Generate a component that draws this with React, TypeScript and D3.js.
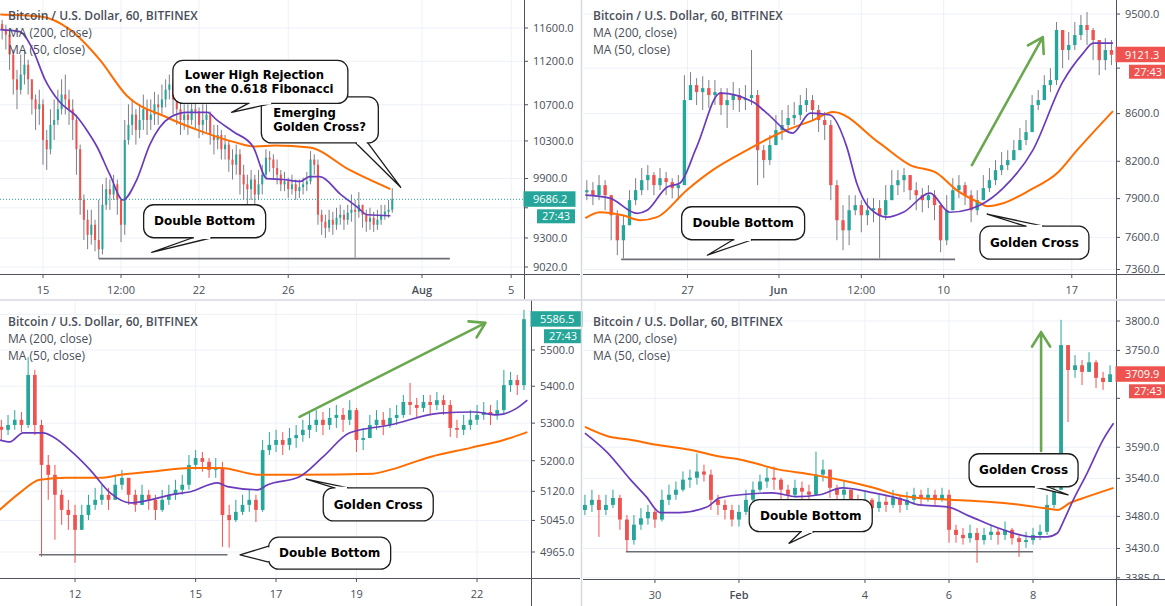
import React from "react";
import * as d3 from "d3";

type Candle = [number, number, number]; // close, high, low
type Pt = [number, number]; // hour, price

const W = 1165;
const H = 606;
const UP = "#26a69a";
const DOWN = "#ef5350";
const MA200_COLOR = "#ff6d00";
const MA50_COLOR = "#6a3cbc";
const ARROW = "#6aa84f";
const GRID = "#edf1f7";
const AXIS = "#50535e";
const TEXT = "#4a4e59";
const FONT = "'Open Sans', 'Noto Sans', sans-serif";
const CALLOUT_FONT = "'DejaVu Sans', Verdana, sans-serif";

const legendLines = ["Bitcoin / U.S. Dollar, 60, BITFINEX", "MA (200, close)", "MA (50, close)"];

// ---------- top left: July, hours from Jul 15 00:00, 4h candles
const candlesA: Candle[] = [
  [11580,11700,11460],[11520,11640,11340],[11280,11580,11100],[10990,11340,10815],[10870,11100,10650],
  [11045,11280,10815],[11160,11340,10930],[10990,11220,10815],[10760,10990,10590],[10650,10815,10420],
  [10705,10870,10475],[10310,10760,10045],[10210,10420,9990],[10475,10650,10155],[10530,10760,10310],
  [10650,10870,10475],[10815,10990,10590],[10760,11045,10590],[10650,10870,10475],[10530,10760,10310],
  [10210,10590,9940],[9680,10260,9530],[9480,9735,9280],[9330,9580,9190],[9430,9580,9235],
  [9280,9480,9170],[9190,9680,9100],[9630,9840,9140],[9790,9910,9580],[9735,9890,9580],
  [9840,9940,9680],[9680,9890,9530],[9430,9680,9260],[10310,10530,9330],[10475,10705,10260],
  [10590,10760,10365],[10420,10650,10260],[10530,10705,10330],[10650,10815,10420],[10530,10760,10365],
  [10590,10760,10420],[10705,10845,10475],[10670,10815,10475],[10760,10930,10590],[10870,10990,10670],
  [10930,11045,10760],[10760,10990,10590],[10650,10815,10475],[10530,10760,10365],[10590,10705,10420],
  [10530,10705,10365],[10650,10760,10475],[10625,10760,10440],[10475,10670,10330],[10530,10705,10365],
  [10590,10705,10400],[10365,10625,10260],[10310,10475,10155],[10365,10475,10210],[10210,10420,10100],
  [10260,10365,10100],[10100,10310,9970],[10045,10210,9890],[10155,10260,9940],[9940,10210,9735],
  [9840,10045,9680],[9790,9940,9630],[9890,9990,9680],[9735,9940,9630],[9840,9990,9680],
  [9940,10045,9735],[10120,10210,9890],[10100,10190,9970],[10010,10155,9890],[9940,10100,9840],
  [9840,9990,9770],[9870,9970,9770],[9790,9910,9700],[9840,9940,9735],[9770,9890,9680],
  [9810,9890,9700],[9840,9910,9735],[9870,9970,9770],[10100,10190,9840],[10045,10155,9940],
  [9530,10100,9430],[9460,9580,9330],[9400,9530,9300],[9480,9580,9360],[9430,9560,9330],
  [9500,9600,9380],[9530,9630,9430],[9480,9580,9380],[9550,9630,9430],[9580,9735,9460],
  [9560,9680,9110],[9630,9760,9500],[9530,9630,9400],[9460,9580,9360],[9500,9600,9380],
  [9430,9560,9360],[9480,9580,9380],[9530,9630,9430],[9560,9630,9480],[9580,9680,9500],
  [9686.2,9800,9550],
];
const ma200A: Pt[] = [[-46,11765],[-3,11740],[29,11580],[61,11220],[90,10805],[133,10560],[169,10410],[205,10290],[228,10240],[250,10250],[287,10230],[330,9990],[374,9790]];
const ma50A: Pt[] = [[-46,11580],[-25,11555],[-11,11340],[2,10990],[18,10730],[37,10560],[47,10420],[58,10240],[72,9940],[86,9680],[101,9890],[115,10260],[137,10560],[155,10615],[177,10615],[187,10530],[205,10400],[226,10240],[241,9900],[258,9890],[277,9870],[287,9920],[298,9920],[320,9740],[338,9610],[349,9530],[374,9520]];
const xTickHoursA = [0, 84, 168, 264, 408, 504];
const xTickLabelsA = ["15", "12:00", "22", "26", "Aug", "5"];
const yTicksA = [11600, 11200, 10700, 10300, 9900, 9600, 9300, 9020];

// ---------- top right: May/June, hours from Jun 1 00:00, 8h candles
const candlesB: Candle[] = [
  [7967,8047,7888],[7927,8031,7849],[8007,8088,7888],[7927,8047,7809],[7770,7927,7578],
  [7578,7809,7466],[7693,7770,7443],[7888,7967,7731],[7967,8063,7849],[8047,8145,7927],
  [8088,8169,7967],[8007,8112,7927],[8063,8145,7967],[8031,8112,7927],[7983,8063,7904],
  [8007,8088,7888],[8717,8937,8007],[8849,8964,8717],[8787,8910,8674],[8822,8928,8631],
  [8761,8893,8648],[8787,8893,8674],[8674,8822,8588],[8717,8822,8477],[8761,8876,8631],
  [8717,8822,8614],[8735,8849,8631],[8761,9164,8674],[8292,8805,8007],[8210,8334,8063],
  [8334,8418,8169],[8460,8588,8334],[8503,8631,8376],[8562,8674,8443],[8588,8700,8503],
  [8674,8761,8545],[8717,8822,8614],[8631,8761,8545],[8545,8674,8443],[8503,8614,8376],
  [8007,8545,7888],[7731,8047,7578],[7654,7849,7503],[7809,7927,7541],[7849,7927,7770],
  [7770,7888,7639],[7809,7904,7693],[7825,7904,7716],[7770,7888,7443],[7888,8007,7731],
  [8007,8128,7888],[8047,8128,7927],[8088,8145,7951],[7967,8063,7888],[7927,8031,7809],
  [7888,7983,7793],[7927,8007,7825],[7849,7967,7731],[7578,7809,7488],[7809,7927,7541],
  [7967,8063,7849],[8007,8088,7904],[7927,8031,7849],[7809,7967,7716],[7888,7967,7770],
  [7983,8088,7888],[8047,8145,7951],[8128,8210,8007],[8169,8276,8088],[8210,8292,8128],
  [8292,8376,8210],[8376,8477,8292],[8443,8545,8334],[8674,8761,8460],[8717,8805,8631],
  [8849,8937,8717],[8893,9000,8787],[9349,9424,8849],[9164,9349,9000],[9210,9330,9072],
  [9302,9424,9164],[9396,9490,9256],[9349,9519,9210],[9256,9368,9072],[9072,9256,8937],
  [9164,9274,8982],[9121.3,9256,9027],
];
const ma200B: Pt[] = [[-254,7747],[-235,7793],[-205,7770],[-182,7731],[-160,7755],[-121,7967],[-87,8128],[-42,8292],[1,8435],[45,8545],[71,8614],[132,8350],[172,8169],[207,8104],[233,7967],[264,7864],[273,7841],[294,7864],[329,7967],[365,8104],[391,8292],[438,8622]];
const ma50B: Pt[] = [[-254,7927],[-222,7904],[-186,7785],[-173,7809],[-147,7991],[-130,8023],[-108,8317],[-77,8778],[-34,8700],[-16,8605],[18,8435],[41,8605],[67,8588],[89,8317],[102,8023],[119,7825],[142,7755],[163,7793],[198,7943],[224,7793],[250,7817],[264,7849],[294,7983],[333,8292],[372,8875],[399,9136],[412,9228],[438,9228]];
const xTickHoursB = [-120, 0, 108, 216, 384];
const xTickLabelsB = ["27", "Jun", "12:00", "10", "17"];
const yTicksB = [9500, 9000, 8600, 8200, 7900, 7600, 7360];

// ---------- bottom left: hours from day 12 00:00, 4h candles
const candlesC: Candle[] = [
  [5282,5309,5255],[5295,5322,5268],[5309,5335,5282],[5295,5330,5276],[5431,5480,5287],
  [5295,5445,5268],[5189,5309,4953],[5163,5215,5098],[5111,5189,4996],[5072,5124,5034],
  [5059,5098,5021],[5021,5085,4938],[5059,5085,5021],[5085,5111,5046],[5098,5129,5072],
  [5111,5137,5085],[5098,5129,5072],[5137,5163,5111],[5155,5176,5124],[5111,5155,5085],
  [5085,5124,5067],[5111,5137,5085],[5098,5124,5072],[5072,5111,5046],[5098,5124,5067],
  [5111,5137,5085],[5124,5150,5098],[5137,5163,5111],[5189,5215,5124],[5207,5228,5176],
  [5197,5223,5171],[5176,5207,5155],[5181,5207,5155],[5059,5197,4978],[5046,5085,4976],
  [5067,5098,5041],[5085,5111,5059],[5098,5124,5067],[5072,5111,5041],[5228,5255,5067],
  [5242,5276,5215],[5255,5282,5223],[5242,5276,5215],[5260,5287,5228],[5268,5295,5234],
  [5282,5309,5250],[5295,5330,5260],[5309,5335,5276],[5295,5330,5268],[5314,5341,5282],
  [5322,5349,5287],[5309,5341,5276],[5335,5362,5295],[5255,5341,5223],[5260,5287,5228],
  [5295,5322,5268],[5309,5335,5282],[5295,5330,5268],[5314,5341,5287],[5322,5349,5295],
  [5357,5376,5314],[5349,5409,5322],[5341,5368,5314],[5357,5376,5330],[5349,5376,5322],
  [5362,5384,5335],[5349,5376,5322],[5287,5362,5263],[5282,5309,5260],[5295,5322,5268],
  [5309,5335,5282],[5322,5349,5295],[5330,5357,5309],[5322,5349,5295],[5335,5362,5309],
  [5403,5445,5322],[5417,5439,5384],[5403,5431,5376],[5586.5,5613,5390],
];
const ma200C: Pt[] = [[-45,5072],[-33,5116],[-21,5150],[-5,5155],[15,5155],[27,5163],[45,5171],[70,5181],[87,5181],[110,5163],[134,5163],[178,5166],[188,5176],[212,5210],[236,5234],[256,5255],[270,5276]];
const ma50C: Pt[] = [[-45,5255],[-39,5250],[-31,5274],[-19,5274],[-13,5263],[-1,5220],[9,5176],[21,5116],[33,5090],[45,5098],[57,5111],[69,5119],[85,5142],[91,5132],[109,5124],[115,5137],[134,5158],[148,5210],[164,5274],[188,5295],[218,5327],[238,5330],[252,5322],[264,5341],[270,5362]];
const xTickHoursC = [0, 72, 120, 168, 240];
const xTickLabelsC = ["12", "15", "17", "19", "22"];
const yTicksC = [5600, 5500, 5400, 5300, 5200, 5120, 5045, 4965];

// ---------- bottom right: hours from Feb 1 00:00, 4h candles
const candlesD: Candle[] = [
  [3498,3514,3482],[3506,3522,3487],[3490,3514,3448],[3498,3514,3482],[3509,3522,3493],
  [3475,3514,3459],[3443,3482,3425],[3467,3482,3436],[3477,3493,3459],[3487,3498,3467],
  [3475,3493,3462],[3506,3522,3472],[3514,3530,3498],[3522,3535,3506],[3538,3551,3519],
  [3541,3554,3525],[3551,3580,3530],[3546,3562,3535],[3506,3554,3490],[3498,3514,3482],
  [3490,3506,3475],[3475,3498,3464],[3487,3498,3464],[3506,3522,3482],[3522,3535,3503],
  [3535,3546,3519],[3541,3557,3525],[3538,3559,3522],[3522,3541,3506],[3514,3530,3503],
  [3525,3538,3509],[3519,3535,3506],[3514,3530,3503],[3546,3583,3522],[3554,3570,3535],
  [3525,3554,3509],[3514,3530,3503],[3522,3535,3506],[3506,3522,3493],[3498,3514,3487],
  [3506,3519,3490],[3493,3509,3482],[3503,3514,3487],[3498,3514,3487],[3509,3522,3493],
  [3498,3514,3486],[3506,3519,3490],[3514,3525,3498],[3509,3522,3498],[3514,3525,3503],
  [3506,3522,3498],[3514,3525,3503],[3459,3522,3439],[3451,3467,3439],[3446,3462,3436],
  [3454,3467,3439],[3443,3462,3408],[3451,3462,3436],[3456,3467,3443],[3451,3462,3436],
  [3459,3472,3443],[3446,3462,3436],[3440,3451,3417],[3443,3456,3431],[3451,3462,3436],
  [3456,3467,3443],[3498,3514,3451],[3522,3535,3493],[3759,3802,3522],[3717,3759,3631],
  [3725,3742,3704],[3714,3734,3692],[3730,3747,3714],[3704,3734,3687],[3697,3714,3684],
  [3709.9,3725,3697],
];
const ma200D: Pt[] = [[-88,3623],[-74,3607],[-62,3602],[-47,3594],[-28,3586],[-11,3575],[1,3570],[23,3554],[42,3546],[62,3535],[77,3525],[90,3514],[103,3509],[121,3506],[142,3503],[161,3498],[174,3493],[182,3490],[189,3501],[199,3511],[214,3525]];
const ma50D: Pt[] = [[-88,3613],[-75,3581],[-62,3538],[-53,3511],[-45,3486],[-34,3486],[-18,3495],[-11,3509],[1,3514],[19,3517],[33,3511],[46,3514],[59,3525],[77,3517],[94,3506],[103,3498],[119,3495],[132,3480],[151,3459],[168,3448],[176,3448],[182,3454],[185,3470],[191,3506],[199,3549],[208,3602],[214,3629]];
const xTickHoursD = [-48, 0, 72, 120, 168];
const xTickLabelsD = ["30", "Feb", "4", "6", "8"];
const yTicksD = [3800, 3750, 3670, 3590, 3540, 3480, 3430, 3385];

type Callout = {
  lines: string[];
  t: number;
  p: number;
  w: number;
  h: number;
  tip: Pt;
  edge: "bottom" | "top" | "left";
  base: [number, number];
};

const calloutsA: Callout[] = [
  { lines: ["Emerging", "Golden Cross?"], t: 298, p: 10530, w: 117, h: 46, tip: [385, 9810], edge: "bottom", base: [36, 48] },
  { lines: ["Lower High Rejection", "on the 0.618 Fibonacci"], t: 234, p: 10960, w: 175, h: 43, tip: [203, 10615], edge: "bottom", base: [-12, 12] },
  { lines: ["Double Bottom"], t: 174, p: 9465, w: 122, h: 33, tip: [117, 9160], edge: "bottom", base: [-12, 7] },
];
const calloutsB: Callout[] = [
  { lines: ["Double Bottom"], t: -47, p: 7708, w: 123, h: 33, tip: [-94, 7466], edge: "bottom", base: [-10, 9] },
  { lines: ["Golden Cross"], t: 335, p: 7560, w: 109, h: 33, tip: [273, 7778], edge: "top", base: [-9, 9] },
];
const calloutsC: Callout[] = [
  { lines: ["Golden Cross"], t: 181, p: 5086, w: 110, h: 33, tip: [138, 5152], edge: "top", base: [-44, -30] },
  { lines: ["Double Bottom"], t: 152, p: 4962, w: 122, h: 32, tip: [98.5, 4958], edge: "left", base: [-7, 9] },
];
const calloutsD: Callout[] = [
  { lines: ["Double Bottom"], t: 41, p: 3481, w: 123, h: 32, tip: [28.6, 3438], edge: "bottom", base: [-10, 3] },
  { lines: ["Golden Cross"], t: 162.6, p: 3553, w: 109, h: 33, tip: [188, 3514], edge: "bottom", base: [10, 24] },
];

type PanelCfg = {
  left: number;
  right: number;
  top: number;
  bottom: number;
  panelRight: number;
  panelBottom: number;
  legendX: number;
  legendY: number;
  xDomain: [number, number];
  yDomain: [number, number];
  yRange: [number, number];
  t0: number;
  step: number;
  open0: number;
  candles: Candle[];
  ma200: Pt[];
  ma50: Pt[];
  xTickHours: number[];
  xTickLabels: string[];
  yTicks: number[];
  last: number;
  lastColor: string;
  wick: string | null;
  db: { t1: number; t2: number; p: number };
  callouts: Callout[];
  arrow: { from: Pt; to: Pt } | null;
  dotted: boolean;
  id: string;
};

const panels: PanelCfg[] = [
  {
    id: "a", left: 0, right: 524, top: 0, bottom: 274, panelRight: 580, panelBottom: 299,
    legendX: 8, legendY: 20,
    xDomain: [-46.3, 517.8], yDomain: [9020, 11600], yRange: [267, 28],
    t0: -44, step: 4, open0: 11650, candles: candlesA, ma200: ma200A, ma50: ma50A,
    xTickHours: xTickHoursA, xTickLabels: xTickLabelsA, yTicks: yTicksA,
    last: 9686.2, lastColor: UP, wick: "#7d7f88",
    db: { t1: 60, t2: 438, p: 9100 }, callouts: calloutsA, arrow: null, dotted: true,
  },
  {
    id: "b", left: 583, right: 1116, top: 0, bottom: 274, panelRight: 1165, panelBottom: 299,
    legendX: 593, legendY: 20,
    xDomain: [-257, 442], yDomain: [7360, 9500], yRange: [269.5, 14],
    t0: -252, step: 8, open0: 7950, candles: candlesB, ma200: ma200B, ma50: ma50B,
    xTickHours: xTickHoursB, xTickLabels: xTickLabelsB, yTicks: yTicksB,
    last: 9121.3, lastColor: DOWN, wick: "#7d7f88",
    db: { t1: -207, t2: 231, p: 7435 }, callouts: calloutsB,
    arrow: { from: [253, 8169], to: [346, 9284] }, dotted: false,
  },
  {
    id: "c", left: 0, right: 531, top: 302, bottom: 578, panelRight: 580, panelBottom: 606,
    legendX: 8, legendY: 326,
    xDomain: [-44.8, 272.2], yDomain: [4965, 5500], yRange: [552, 350],
    t0: -44, step: 4, open0: 5290, candles: candlesC, ma200: ma200C, ma50: ma50C,
    xTickHours: xTickHoursC, xTickLabels: xTickLabelsC, yTicks: yTicksC,
    last: 5586.5, lastColor: UP, wick: null,
    db: { t1: -21.5, t2: 91, p: 4958 }, callouts: calloutsC,
    arrow: { from: [134, 5317], to: [245, 5576] }, dotted: false,
  },
  {
    id: "d", left: 583, right: 1116, top: 302, bottom: 579, panelRight: 1165, panelBottom: 606,
    legendX: 593, legendY: 326,
    xDomain: [-89.1, 215.4], yDomain: [3430, 3800], yRange: [548.5, 321],
    t0: -88, step: 4, open0: 3490, candles: candlesD, ma200: ma200D, ma50: ma50D,
    xTickHours: xTickHoursD, xTickLabels: xTickLabelsD, yTicks: yTicksD,
    last: 3709.9, lastColor: DOWN, wick: null,
    db: { t1: -64.6, t2: 168, p: 3425 }, callouts: calloutsD,
    arrow: { from: [172.6, 3584], to: [172.6, 3781] }, dotted: false,
  },
];

function CalloutView({ co, x, y }: { co: Callout; x: any; y: any }) {
  const cx = x(co.t);
  const cy = y(co.p);
  const x0 = cx - co.w / 2;
  const y0 = cy - co.h / 2;
  const tx = x(co.tip[0]);
  const ty = y(co.tip[1]);
  let b1: Pt;
  let b2: Pt;
  if (co.edge === "bottom") {
    b1 = [cx + co.base[0], y0 + co.h];
    b2 = [cx + co.base[1], y0 + co.h];
  } else if (co.edge === "top") {
    b1 = [cx + co.base[0], y0];
    b2 = [cx + co.base[1], y0];
  } else {
    b1 = [x0, cy + co.base[0]];
    b2 = [x0, cy + co.base[1]];
  }
  const horiz = co.edge !== "left";
  const c1 = horiz ? [b1[0] + 1.2, b1[1]] : [b1[0], b1[1] + 1.2];
  const c2 = horiz ? [b2[0] - 1.2, b2[1]] : [b2[0], b2[1] - 1.2];
  const multi = co.lines.length > 1;
  const lh = 13.6;
  const fs = multi ? 11.6 : 12;
  return (
    <g>
      <path
        d={`M${b1[0]},${b1[1]}L${tx},${ty}L${b2[0]},${b2[1]}`}
        fill="#fff"
        stroke="#1c1c1c"
        strokeWidth={1.3}
        strokeLinejoin="round"
      />
      <rect x={x0} y={y0} width={co.w} height={co.h} rx={10} fill="#fff" stroke="#1c1c1c" strokeWidth={1.3} />
      <line x1={c1[0]} y1={c1[1]} x2={c2[0]} y2={c2[1]} stroke="#fff" strokeWidth={2.6} />
      {co.lines.map((s, i) => (
        <text
          key={i}
          x={multi ? x0 + 12 : cx}
          y={cy - ((co.lines.length - 1) * lh) / 2 + i * lh + 4.2}
          textAnchor={multi ? "start" : "middle"}
          fontFamily={CALLOUT_FONT}
          fontWeight="bold"
          fontSize={fs}
          fill="#000"
        >
          {s}
        </text>
      ))}
    </g>
  );
}

function PanelView({ c }: { c: PanelCfg }) {
  const x = d3.scaleLinear().domain(c.xDomain).range([c.left, c.right]);
  const y = d3.scaleLog().domain(c.yDomain).range(c.yRange);
  const slot = x(c.step) - x(0);
  const bw = Math.max(1, slot * 0.55);
  const line = d3
    .line<Pt>()
    .x((d) => x(d[0]))
    .y((d) => y(d[1]))
    .curve(d3.curveMonotoneX);
  const clip = `clip-${c.id}`;
  const clipAxis = `clipax-${c.id}`;
  const ly = y(c.last);
  // tick labels that sit under the last-price boxes are covered in the original
  const covered = (v: number) => y(v) > ly - 14 && y(v) < ly + 28;

  return (
    <g>
      <defs>
        <clipPath id={clip}>
          <rect x={c.left} y={c.top} width={c.right - c.left} height={c.bottom - c.top} />
        </clipPath>
        <clipPath id={clipAxis}>
          <rect x={c.right} y={c.top} width={c.panelRight - c.right} height={c.bottom - c.top} />
        </clipPath>
      </defs>

      {/* grid */}
      {c.yTicks.map((v) => (
        <line key={"gy" + v} x1={c.left} x2={c.right} y1={y(v)} y2={y(v)} stroke={GRID} strokeWidth={1} />
      ))}
      {c.xTickHours.map((t) => (
        <line key={"gx" + t} x1={x(t)} x2={x(t)} y1={c.top} y2={c.bottom} stroke={GRID} strokeWidth={1} />
      ))}

      <g clipPath={`url(#${clip})`}>
        {c.candles.map((d, i) => {
          const t = c.t0 + c.step * i;
          const o = i === 0 ? c.open0 : c.candles[i - 1][0];
          const cl = d[0];
          const hi = Math.max(d[1], o, cl);
          const lo = Math.min(d[2], o, cl);
          const col = cl >= o ? UP : DOWN;
          const cx = x(t);
          const yTop = y(Math.max(o, cl));
          const yBot = y(Math.min(o, cl));
          return (
            <g key={i}>
              <line x1={cx} x2={cx} y1={y(hi)} y2={y(lo)} stroke={c.wick || col} strokeWidth={1} />
              <rect x={cx - bw / 2} y={yTop} width={bw} height={Math.max(1, yBot - yTop)} fill={col} />
            </g>
          );
        })}
        <path d={line(c.ma200) || ""} fill="none" stroke={MA200_COLOR} strokeWidth={2} />
        <path d={line(c.ma50) || ""} fill="none" stroke={MA50_COLOR} strokeWidth={1.7} />
        {c.dotted && (
          <line x1={c.left} x2={c.right} y1={ly} y2={ly} stroke={UP} strokeWidth={1} strokeDasharray="1 2" />
        )}
      </g>

      {/* double bottom support line */}
      <line
        x1={x(c.db.t1)}
        x2={x(c.db.t2)}
        y1={y(c.db.p)}
        y2={y(c.db.p)}
        stroke="#6b6e77"
        strokeWidth={1.6}
      />

      {c.callouts.map((co, i) => (
        <CalloutView key={i} co={co} x={x} y={y} />
      ))}

      {c.arrow &&
        (() => {
          const ax1 = x(c.arrow.from[0]);
          const ay1 = y(c.arrow.from[1]);
          const ax2 = x(c.arrow.to[0]);
          const ay2 = y(c.arrow.to[1]);
          const ang = Math.atan2(ay2 - ay1, ax2 - ax1);
          const L = 17;
          const sp = (32 * Math.PI) / 180;
          const h1x = ax2 - L * Math.cos(ang - sp);
          const h1y = ay2 - L * Math.sin(ang - sp);
          const h2x = ax2 - L * Math.cos(ang + sp);
          const h2y = ay2 - L * Math.sin(ang + sp);
          return (
            <path
              d={`M${ax1},${ay1}L${ax2},${ay2}M${h1x},${h1y}L${ax2},${ay2}L${h2x},${h2y}`}
              fill="none"
              stroke={ARROW}
              strokeWidth={2.6}
              strokeLinecap="round"
              strokeLinejoin="round"
            />
          );
        })()}

      {/* legend */}
      {legendLines.map((s, i) => (
        <text
          key={s}
          x={c.legendX}
          y={c.legendY + i * 17}
          fontFamily={FONT}
          fontSize={12}
          fontWeight={i === 0 ? 600 : 400}
          fill={TEXT}
        >
          {s}
        </text>
      ))}

      {/* axes */}
      <line x1={c.right + 0.5} x2={c.right + 0.5} y1={c.top - 2} y2={c.panelBottom} stroke={AXIS} strokeWidth={1} />
      <line x1={c.left} x2={c.panelRight} y1={c.bottom + 0.5} y2={c.bottom + 0.5} stroke={AXIS} strokeWidth={1} />

      {c.xTickHours.map((t, i) => (
        <g key={"xt" + t}>
          <line x1={x(t)} x2={x(t)} y1={c.bottom} y2={c.bottom + 4} stroke={AXIS} />
          <text
            x={x(t)}
            y={c.bottom + 19.5}
            textAnchor="middle"
            fontFamily={FONT}
            fontSize={11}
            fontWeight={/^[A-Z]/.test(c.xTickLabels[i]) ? 600 : 400}
            fill={TEXT}
          >
            {c.xTickLabels[i]}
          </text>
        </g>
      ))}

      <g clipPath={`url(#${clipAxis})`}>
        {c.yTicks.map((v) => (
          <g key={"yt" + v}>
            <line x1={c.right} x2={c.right + 4} y1={y(v)} y2={y(v)} stroke={AXIS} />
            {!covered(v) && (
              <text x={c.right + 9} y={y(v)} dy="0.35em" fontFamily={FONT} fontSize={11} fill={TEXT}>
                {v.toFixed(1)}
              </text>
            )}
          </g>
        ))}
      </g>

      {/* last price labels */}
      <rect x={c.right - 0.5} y={ly - 8} width={52} height={15.5} fill={c.lastColor} />
      <text x={c.right + 9} y={ly} dy="0.35em" fontFamily={FONT} fontSize={11} fill="#fff">
        {c.last.toFixed(1)}
      </text>
      <rect x={c.right + 13} y={ly + 10} width={38} height={14} fill={c.lastColor} />
      <text x={c.right + 32} y={ly + 17} dy="0.35em" textAnchor="middle" fontFamily={FONT} fontSize={11} fill="#fff">
        27:43
      </text>
    </g>
  );
}

export default function App() {
  return (
    <div style={{ position: "absolute", left: 0, top: 0 }}>
      <svg width={W} height={H} style={{ display: "block", background: "#fff" }}>
        <rect width={W} height={H} fill="#fff" />
        {panels.map((p) => (
          <PanelView key={p.id} c={p} />
        ))}
        <line x1={0} x2={W} y1={300} y2={300} stroke="#d6d9e0" strokeWidth={1.5} />
        <line x1={581.5} x2={581.5} y1={0} y2={H} stroke="#d6d9e0" strokeWidth={1.5} />
      </svg>
    </div>
  );
}
